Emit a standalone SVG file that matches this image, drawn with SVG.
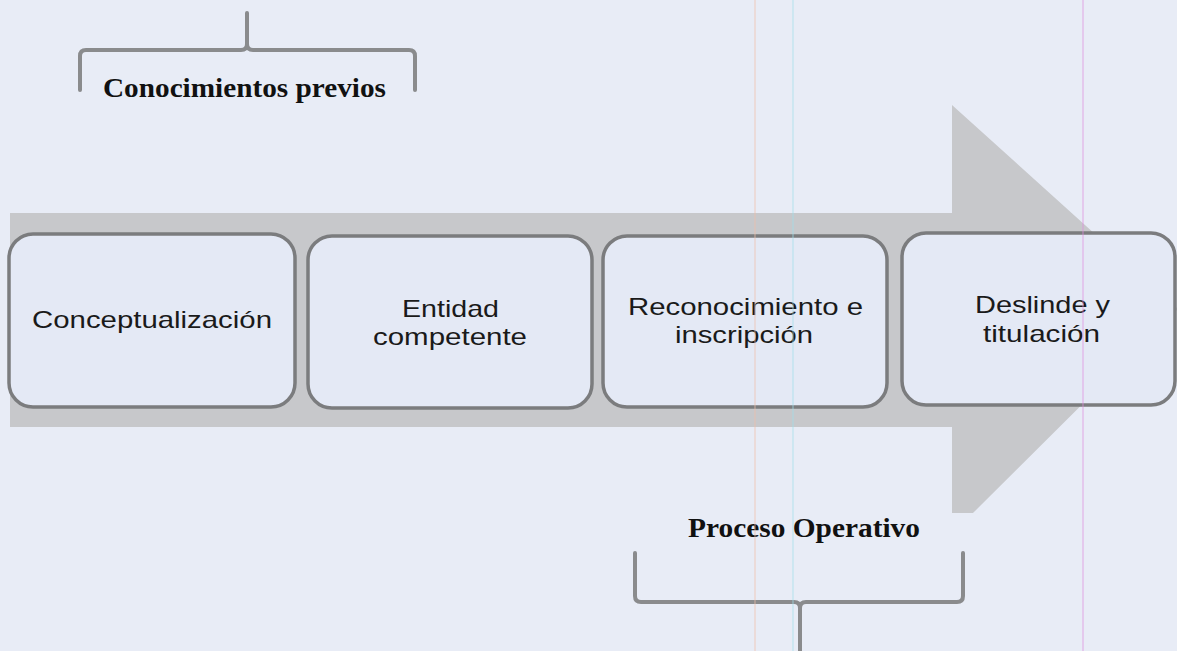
<svg xmlns="http://www.w3.org/2000/svg" width="1177" height="651" viewBox="0 0 1177 651">
  <style>
    .box { fill: #e4e9f5; stroke: #7b7c7e; stroke-width: 3.5; }
    .lbl { font-family: "Liberation Sans", Arial, sans-serif; font-size: 24px; fill: #1a1a1a; text-anchor: start; }
    .ttl { font-family: "Liberation Serif", "Times New Roman", serif; font-size: 27px; font-weight: bold; fill: #111; }
    .brace { fill: none; stroke: #8a8b8d; stroke-width: 4; stroke-linejoin: round; stroke-linecap: round; }
    .scan { stroke-width: 1.2; opacity: 0.6; }
  </style>
  <rect x="0" y="0" width="1177" height="651" fill="#e8ecf6"/>

  <g id="arrow">
    <polygon points="10,213 952,213 952,105 1178,309 973,513 952,513 952,427 10,427" fill="#c7c8cb"/>
  </g>

  <g id="brace-top">
    <path class="brace" d="M80,90 L80,56 Q80,50 86,50 L241,50 Q247,50 247,44 L247,13 M247,44 Q247,50 253,50 L409,50 Q415,50 415,56 L415,90"/>
    <text class="ttl" x="103" y="97" textLength="283" lengthAdjust="spacingAndGlyphs">Conocimientos previos</text>
  </g>

  <g id="node-1">
    <rect class="box" x="9" y="234" width="286" height="173" rx="24"/>
    <text class="lbl" x="32" y="328" textLength="240" lengthAdjust="spacingAndGlyphs">Conceptualización</text>
  </g>

  <g id="node-2">
    <rect class="box" x="308" y="236" width="284" height="172" rx="24"/>
    <text class="lbl" x="402" y="317" textLength="97" lengthAdjust="spacingAndGlyphs">Entidad</text>
    <text class="lbl" x="373" y="345" textLength="154" lengthAdjust="spacingAndGlyphs">competente</text>
  </g>

  <g id="node-3">
    <rect class="box" x="603" y="236" width="284" height="171" rx="24"/>
    <text class="lbl" x="628" y="315" textLength="235" lengthAdjust="spacingAndGlyphs">Reconocimiento e</text>
    <text class="lbl" x="675" y="343" textLength="138" lengthAdjust="spacingAndGlyphs">inscripción</text>
  </g>

  <g id="node-4">
    <rect class="box" x="902" y="233" width="273" height="172" rx="24"/>
    <text class="lbl" x="975" y="313" textLength="135" lengthAdjust="spacingAndGlyphs">Deslinde y</text>
    <text class="lbl" x="983" y="342" textLength="117" lengthAdjust="spacingAndGlyphs">titulación</text>
  </g>

  <g id="brace-bottom">
    <text class="ttl" x="688" y="537" textLength="232" lengthAdjust="spacingAndGlyphs">Proceso Operativo</text>
    <path class="brace" d="M635,553 L635,596 Q635,602 641,602 L794,602 Q800,602 800,608 L800,651 M800,608 Q800,602 806,602 L957,602 Q963,602 963,596 L963,553"/>
  </g>

  <g id="connectors"></g>

  <g id="scan-lines">
    <line class="scan" x1="755" y1="0" x2="755" y2="651" stroke="#f0c0a8"/>
    <line class="scan" x1="793" y1="0" x2="793" y2="651" stroke="#9fe0ec"/>
    <line class="scan" x1="1083" y1="0" x2="1083" y2="651" stroke="#e08ce0"/>
  </g>
</svg>
